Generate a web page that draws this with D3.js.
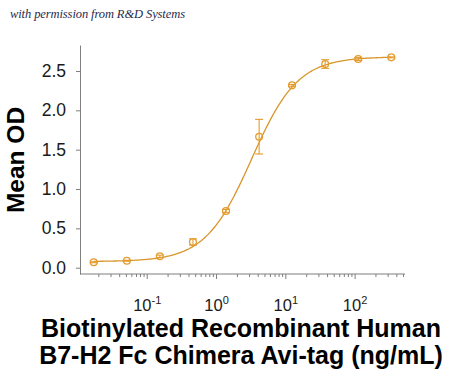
<!DOCTYPE html>
<html>
<head>
<meta charset="utf-8">
<script src="https://cdn.jsdelivr.net/npm/d3@7"></script>
<style>
  html, body { margin: 0; padding: 0; background: #fff; }
  svg { display: block; }
</style>
</head>
<body>
<svg id="chart" width="450" height="375"></svg>
<script>
// ---- data ----
const concentrations = [0.0169, 0.0508, 0.152, 0.457, 1.37, 4.12, 12.3, 37.0, 111, 333];
const meanOD        = [0.069, 0.089, 0.145, 0.327, 0.72, 1.665, 2.317, 2.588, 2.652, 2.673];
const errorOD       = [0.006, 0.006, 0.015, 0.04, 0.02, 0.22, 0.012, 0.055, 0.018, 0.006];
const yTickValues   = [0.0, 0.5, 1.0, 1.5, 2.0, 2.5];
const xTickExponents = [-1, 0, 1, 2];
// 4-parameter logistic fit shown as the curve
const fitBottom = 0.078, fitTop = 2.68, fitEC50 = 3.2, fitHill = 1.3;

const creditText = "with permission from R&D Systems";
const yTitle = "Mean OD";
const xTitleLines = ["Biotinylated Recombinant Human", "B7-H2 Fc Chimera Avi-tag (ng/mL)"];

// ---- drawing ----
const svg = d3.select("#chart");
const markColor = "#E49C2F";
const lineColor = "#D8962A";
const axisColor = "#7f7f7f";

const x = d3.scaleLog().domain([0.0107, 525]).range([80, 405]);
const y = d3.scaleLinear().domain([-0.08, 2.83]).range([274, 45]);

// credit text
svg.append("text")
  .attr("x", 10).attr("y", 18)
  .attr("font-family", "Liberation Serif, serif")
  .attr("font-style", "italic")
  .attr("font-size", 12.5)
  .attr("fill", "#1f2b4d")
  .attr("textLength", 175)
  .text(creditText);

// y axis
const yAxis = d3.axisLeft(y).tickValues(yTickValues).tickFormat(d3.format(".1f")).tickSize(4).tickPadding(10).tickSizeOuter(0);
const gy = svg.append("g").attr("transform", "translate(80,0)").call(yAxis);
gy.select(".domain").attr("stroke", axisColor);
gy.selectAll(".tick line").attr("stroke", axisColor);
gy.selectAll(".tick text")
  .attr("font-family", "Liberation Sans, Arial, sans-serif")
  .attr("font-size", 17.5)
  .attr("fill", "#1a1a1a");

// x axis: minor ticks
const [d0, d1] = x.domain();
const minorTicks = [];
for (let e = -2; e <= 2; e++) {
  for (let m = 1; m <= 9; m++) {
    const v = m * Math.pow(10, e);
    if (v >= d0 && v <= d1) minorTicks.push(v);
  }
}
const gx = svg.append("g").attr("transform", "translate(0,274)");
gx.append("line").attr("x1", x.range()[0]).attr("x2", x.range()[1]).attr("y1", 0).attr("y2", 0).attr("stroke", axisColor);
gx.selectAll("line.minor").data(minorTicks).join("line")
  .attr("class", "minor")
  .attr("x1", d => x(d)).attr("x2", d => x(d))
  .attr("y1", 0)
  .attr("y2", d => (Math.abs(Math.log10(d) - Math.round(Math.log10(d))) < 1e-9 ? 5 : 3))
  .attr("stroke", axisColor);

const xLabels = gx.selectAll("text.xt").data(xTickExponents).join("text")
  .attr("class", "xt")
  .attr("x", d => x(Math.pow(10, d)))
  .attr("y", 37)
  .attr("text-anchor", "middle")
  .attr("font-family", "Liberation Sans, Arial, sans-serif")
  .attr("font-size", 16.5)
  .attr("fill", "#1a1a1a");
xLabels.append("tspan").text("10");
xLabels.append("tspan").attr("dy", -7).attr("font-size", 11).text(d => d < 0 ? "-" + Math.abs(d) : String(d));

// axis titles
svg.append("text")
  .attr("transform", "translate(24,160) rotate(-90)")
  .attr("text-anchor", "middle")
  .attr("font-family", "Liberation Sans, Arial, sans-serif")
  .attr("font-weight", "bold")
  .attr("font-size", 24.5)
  .attr("fill", "#000")
  .text(yTitle);

svg.selectAll("text.xtitle").data(xTitleLines).join("text")
  .attr("class", "xtitle")
  .attr("x", 241)
  .attr("y", (d, i) => 337 + i * 27)
  .attr("text-anchor", "middle")
  .attr("font-family", "Liberation Sans, Arial, sans-serif")
  .attr("font-weight", "bold")
  .attr("font-size", 25)
  .attr("fill", "#000")
  .text(d => d);

// fitted curve
const logMin = Math.log10(concentrations[0]);
const logMax = Math.log10(concentrations[concentrations.length - 1]);
const curveX = d3.range(0, 201).map(i => Math.pow(10, logMin + (logMax - logMin) * i / 200));
const fit = c => fitBottom + (fitTop - fitBottom) / (1 + Math.pow(fitEC50 / c, fitHill));
svg.append("path")
  .datum(curveX)
  .attr("fill", "none")
  .attr("stroke", lineColor)
  .attr("stroke-width", 1.3)
  .attr("d", d3.line().x(d => x(d)).y(d => y(fit(d))));

// error bars
const pts = concentrations.map((c, i) => ({ c, v: meanOD[i], e: errorOD[i] }));
const eb = svg.append("g").attr("stroke", markColor).attr("stroke-width", 1.1);
eb.selectAll("line.v").data(pts).join("line")
  .attr("x1", d => x(d.c)).attr("x2", d => x(d.c))
  .attr("y1", d => y(d.v - d.e)).attr("y2", d => y(d.v + d.e));
eb.selectAll("line.t").data(pts).join("line")
  .attr("x1", d => x(d.c) - 4).attr("x2", d => x(d.c) + 4)
  .attr("y1", d => y(d.v + d.e)).attr("y2", d => y(d.v + d.e));
eb.selectAll("line.b").data(pts).join("line")
  .attr("x1", d => x(d.c) - 4).attr("x2", d => x(d.c) + 4)
  .attr("y1", d => y(d.v - d.e)).attr("y2", d => y(d.v - d.e));

// markers
svg.append("g").selectAll("circle").data(pts).join("circle")
  .attr("cx", d => x(d.c)).attr("cy", d => y(d.v))
  .attr("r", 3.4)
  .attr("fill", "none")
  .attr("stroke", markColor)
  .attr("stroke-width", 1.3);
</script>
</body>
</html>
